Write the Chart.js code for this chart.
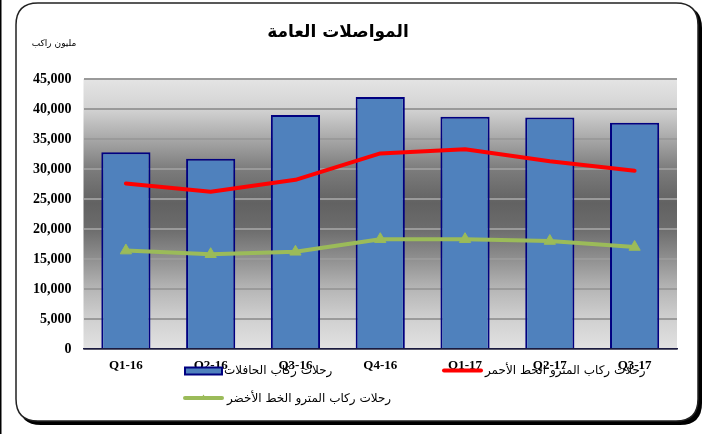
<!DOCTYPE html>
<html>
<head>
<meta charset="utf-8">
<script src="https://cdn.jsdelivr.net/npm/chart.js@4.4.1/dist/chart.umd.min.js"></script>
<style>
html,body{margin:0;padding:0;background:#fff;}
#wrap{width:712px;height:434px;position:relative;}
</style>
</head>
<body>
<div id="wrap"><canvas id="c" width="712" height="434"></canvas></div>
<script>
const categories = ['Q1-16','Q2-16','Q3-16','Q4-16','Q1-17','Q2-17','Q3-17'];
const busRiders = [32800, 31700, 39000, 42000, 38700, 38600, 37700];
const metroRed = [27600, 26200, 28200, 32600, 33300, 31300, 29700];
const metroGreen = [16400, 15800, 16200, 18300, 18300, 18000, 17000];
const seriesNames = ['رحلات ركاب الحافلات', 'رحلات ركاب المترو الخط الأحمر', 'رحلات ركاب المترو الخط الأخضر'];
const titleText = 'المواصلات العامة';
const unitText = 'مليون راكب';
const yTicks = [0,5000,10000,15000,20000,25000,30000,35000,40000,45000];

const AR_FONT = '"DejaVu Sans", sans-serif';

function roundRect(ctx, x, y, w, h, r) {
  ctx.beginPath();
  ctx.moveTo(x + r, y);
  ctx.lineTo(x + w - r, y);
  ctx.quadraticCurveTo(x + w, y, x + w, y + r);
  ctx.lineTo(x + w, y + h - r);
  ctx.quadraticCurveTo(x + w, y + h, x + w - r, y + h);
  ctx.lineTo(x + r, y + h);
  ctx.quadraticCurveTo(x, y + h, x, y + h - r);
  ctx.lineTo(x, y + r);
  ctx.quadraticCurveTo(x, y, x + r, y);
  ctx.closePath();
}

const framePlugin = {
  id: 'frame',
  beforeDraw(chart) {
    const ctx = chart.ctx;
    const a = chart.chartArea;
    ctx.save();
    ctx.fillStyle = '#fff';
    ctx.fillRect(0, 0, chart.width, chart.height);
    ctx.fillStyle = '#000';
    ctx.fillRect(0, 0, 1.5, chart.height);
    roundRect(ctx, 19, 6, 683, 419, 22);
    ctx.fillStyle = '#000';
    ctx.fill();
    roundRect(ctx, 16, 3, 682, 418, 22);
    ctx.fillStyle = '#fff';
    ctx.fill();
    ctx.lineWidth = 1.5;
    ctx.strokeStyle = '#222';
    ctx.stroke();
    const g = ctx.createLinearGradient(0, a.top, 0, a.bottom);
    g.addColorStop(0, '#e4e4e4');
    g.addColorStop(0.111, '#d3d3d3');
    g.addColorStop(0.222, '#a8a8a8');
    g.addColorStop(0.333, '#7c7c7c');
    g.addColorStop(0.46, '#626262');
    g.addColorStop(0.556, '#6c6c6c');
    g.addColorStop(0.667, '#909090');
    g.addColorStop(0.778, '#b6b6b6');
    g.addColorStop(0.889, '#d0d0d0');
    g.addColorStop(1, '#e2e2e2');
    ctx.fillStyle = g;
    ctx.fillRect(a.left, a.top, a.right - a.left, a.bottom - a.top);
    ctx.fillStyle = '#000';
    ctx.textAlign = 'center';
    ctx.textBaseline = 'middle';
    ctx.font = 'bold 17px ' + AR_FONT;
    ctx.fillText(titleText, 338, 33);
    ctx.font = '9px ' + AR_FONT;
    ctx.fillText(unitText, 54, 44);
    ctx.restore();
  },
  afterDraw(chart) {
    const ctx = chart.ctx;
    const ds = chart.data.datasets;
    ctx.save();
    ctx.textBaseline = 'middle';
    ctx.textAlign = 'left';
    ctx.font = '12px ' + AR_FONT;
    ctx.fillStyle = ds[0].backgroundColor;
    ctx.fillRect(185, 367.5, 37, 7);
    ctx.strokeStyle = ds[0].borderColor;
    ctx.lineWidth = 2;
    ctx.strokeRect(185, 367.5, 37, 7);
    ctx.fillStyle = '#000';
    ctx.fillText(ds[0].label, 224, 371);
    ctx.lineCap = 'round';
    ctx.strokeStyle = ds[1].borderColor;
    ctx.lineWidth = 4;
    ctx.beginPath(); ctx.moveTo(444, 370.5); ctx.lineTo(481, 370.5); ctx.stroke();
    ctx.fillText(ds[1].label, 485, 371);
    ctx.strokeStyle = ds[2].borderColor;
    ctx.beginPath(); ctx.moveTo(185, 398); ctx.lineTo(222, 398); ctx.stroke();
    ctx.fillStyle = ds[2].borderColor;
    ctx.beginPath(); ctx.moveTo(200, 400); ctx.lineTo(203.5, 394.5); ctx.lineTo(207, 400); ctx.closePath(); ctx.fill();
    ctx.fillStyle = '#000';
    ctx.fillText(ds[2].label, 227, 399);
    ctx.restore();
  }
};

new Chart(document.getElementById('c'), {
  type: 'bar',
  data: {
    labels: categories,
    datasets: [
      {
        type: 'bar', label: seriesNames[0], data: busRiders,
        backgroundColor: '#4f81bd', borderColor: '#000080', borderWidth: 2,
        barPercentage: 0.58, categoryPercentage: 1.0, order: 3
      },
      {
        type: 'line', label: seriesNames[1], data: metroRed,
        borderColor: '#ff0000', backgroundColor: '#ff0000', borderWidth: 4,
        pointRadius: 0, tension: 0, order: 2, borderCapStyle: 'round', borderJoinStyle: 'round'
      },
      {
        type: 'line', label: seriesNames[2], data: metroGreen,
        borderColor: '#9bbb59', backgroundColor: '#9bbb59', borderWidth: 4,
        pointStyle: 'triangle', pointRadius: 6.5, pointBorderWidth: 1,
        pointBackgroundColor: '#9bbb59', pointBorderColor: '#9bbb59',
        tension: 0, order: 1, borderCapStyle: 'round', borderJoinStyle: 'round'
      }
    ]
  },
  options: {
    responsive: false,
    animation: false,
    devicePixelRatio: 1,
    layout: { padding: { left: 0, right: 35, top: 79, bottom: 55 } },
    plugins: {
      legend: { display: false },
      title: { display: false },
      tooltip: { enabled: false }
    },
    scales: {
      x: {
        grid: { display: false, drawTicks: false },
        border: { display: true, color: '#1a1a40', width: 1.5 },
        ticks: {
          color: '#000', padding: 9,
          font: { family: '"Liberation Serif", serif', weight: 'bold', size: 13 }
        },
        afterFit(scale) { scale.height = 30; }
      },
      y: {
        min: 0, max: 45000,
        afterBuildTicks(scale) { scale.ticks = yTicks.map(v => ({ value: v })); },
        grid: { color: '#9a9a9a', lineWidth: 2, drawTicks: false },
        border: { display: false },
        ticks: {
          color: '#000', padding: 12,
          font: { family: '"Liberation Serif", serif', weight: 'bold', size: 14 },
          callback: v => Number(v).toLocaleString('en-US')
        },
        afterFit(scale) { scale.width = 83.5; }
      }
    }
  },
  plugins: [framePlugin]
});
</script>
</body>
</html>
